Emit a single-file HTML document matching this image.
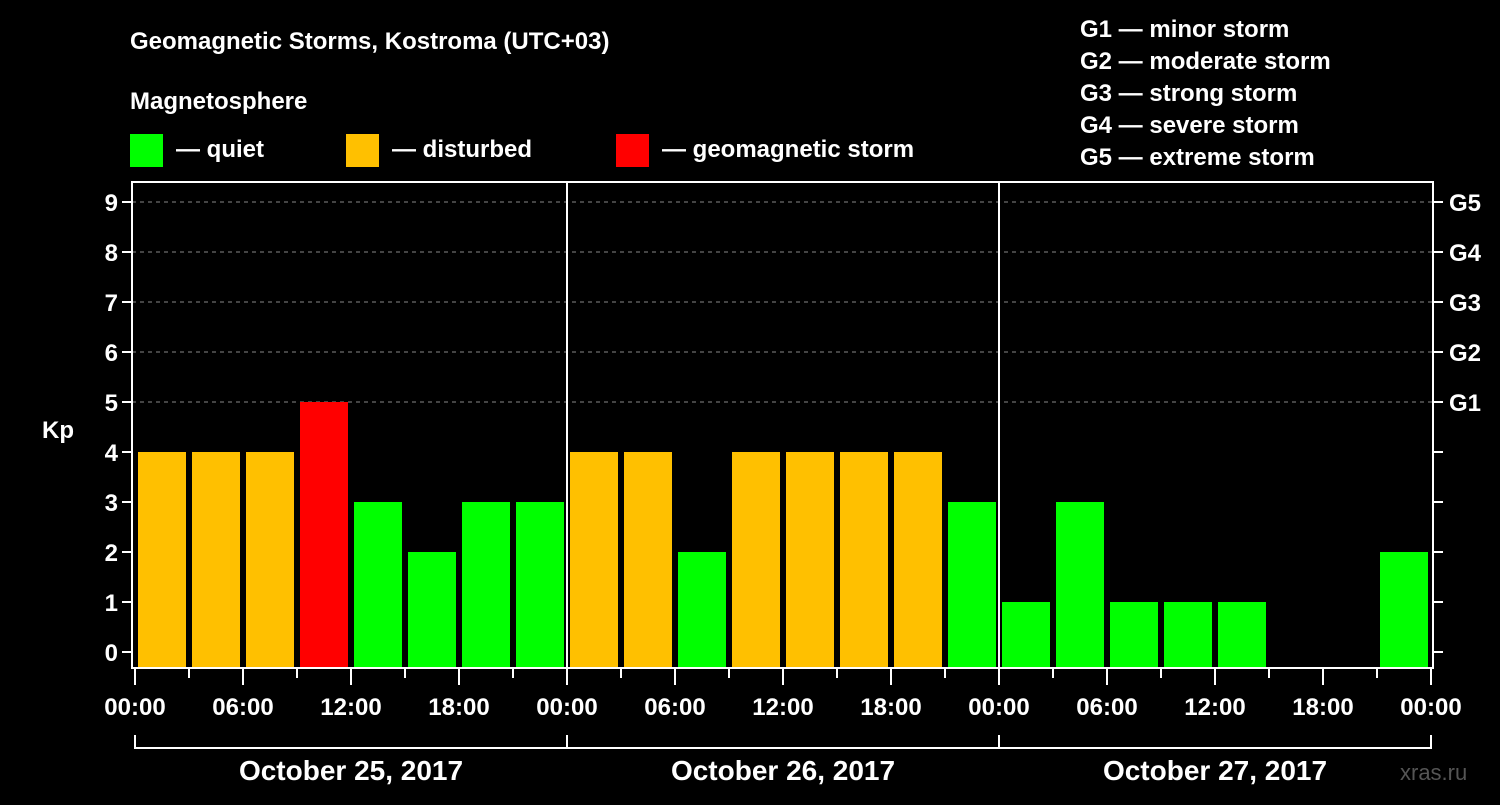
<!DOCTYPE html>
<html><head><meta charset="utf-8"><style>
body{margin:0;background:#000;width:1500px;height:800px;overflow:hidden}
svg text{font-family:"Liberation Sans",Arial,sans-serif;font-weight:bold;fill:#fff}
</style></head><body>
<svg id="c" width="1500" height="800">
<text x="130" y="49" font-size="24">Geomagnetic Storms, Kostroma (UTC+03)</text>
<text x="130" y="109" font-size="24">Magnetosphere</text>
<g><rect x="130" y="134" width="33" height="33" fill="#00ff00"/><text x="176" y="157" font-size="24">— quiet</text></g>
<g><rect x="346" y="134" width="33" height="33" fill="#ffc000"/><text x="392" y="157" font-size="24">— disturbed</text></g>
<g><rect x="616" y="134" width="33" height="33" fill="#ff0000"/><text x="662" y="157" font-size="24">— geomagnetic storm</text></g>
<g font-size="24">
<text x="1080" y="37">G1 — minor storm</text><text x="1080" y="69">G2 — moderate storm</text><text x="1080" y="101">G3 — strong storm</text><text x="1080" y="133">G4 — severe storm</text><text x="1080" y="165">G5 — extreme storm</text></g>
<text x="42" y="438" font-size="24">Kp</text>
<text x="1400" y="780" font-size="22" fill="#555" style="fill:#555;font-weight:normal">xras.ru</text>
<g id="g"></g>
</svg>
<script>
const kpValues=[4,4,4,5,3,2,3,3, 4,4,2,4,4,4,4,3, 1,3,1,1,1,null,null,2];
const dayLabels=["October 25, 2017","October 26, 2017","October 27, 2017"];
const hourLabels=["00:00","06:00","12:00","18:00"];
const yTicks=[0,1,2,3,4,5,6,7,8,9];
const gLabels=["G1","G2","G3","G4","G5"];
const NS="http://www.w3.org/2000/svg",g=document.getElementById('g');
const X0=135,SLOT=54,L=132,R=1433,T=182,B=668;
const y=v=>652-v*50, x=i=>X0+i*SLOT;
function mk(t,a){const e=document.createElementNS(NS,t);for(const k in a)e.setAttribute(k,a[k]);g.appendChild(e);return e;}
yTicks.forEach(v=>{
 if(v>=5){const l=mk('line',{x1:L,x2:R,y1:y(v),y2:y(v),stroke:'#888','stroke-dasharray':'4,4'});
 
 }
 const t=mk('line',{x1:L-10,x2:L,y1:y(v),y2:y(v),stroke:'#fff','stroke-width':2});
 
 
 const t2=mk('line',{x1:R,x2:R+10,y1:y(v),y2:y(v),stroke:'#fff','stroke-width':2});
 
 
 const tx=mk('text',{x:L-14,y:y(v)+9,'font-size':24,'text-anchor':'end'});tx.textContent=v;
 
 
});
gLabels.forEach((s,i)=>{const tx=mk('text',{x:1449,y:y(5+i)+9,'font-size':24});tx.textContent=s;
 
 });
kpValues.forEach((v,i)=>{if(v==null)return;
 const c=v>=5?'#ff0000':v>=4?'#ffc000':'#00ff00';
 const r=mk('rect',{x:x(i)+3,width:SLOT-6,y:y(v),height:B-1-y(v),fill:c});
 
 });
for(let d=1;d<3;d++){const l=mk('line',{x1:x(d*8),x2:x(d*8),y1:T,y2:B,stroke:'#fff','stroke-width':2});
 
 }
const fr=mk('rect',{x:L,y:T,width:R-L,height:B-T,fill:'none',stroke:'#fff','stroke-width':2});


for(let i=0;i<=24;i++){const maj=i%2==0;
 const l=mk('line',{x1:x(i),x2:x(i),y1:B,y2:B+(maj?17:10),stroke:'#fff','stroke-width':2});
 
 
 if(maj){const tx=mk('text',{x:x(i),y:715,'font-size':24,'text-anchor':'middle'});tx.textContent=hourLabels[(i/2)%4];
 
 }}
dayLabels.forEach((s,d)=>{const a=x(d*8),b=x(d*8+8);
 const p=mk('path',{d:`M${a} 735V748H${b}`+(d==2?`V735`:''),stroke:'#fff','stroke-width':2,fill:'none'});
 
 
 const tx=mk('text',{x:(a+b)/2,y:780,'font-size':28,'text-anchor':'middle'});tx.textContent=s;
 
 });
</script>
</body></html>
